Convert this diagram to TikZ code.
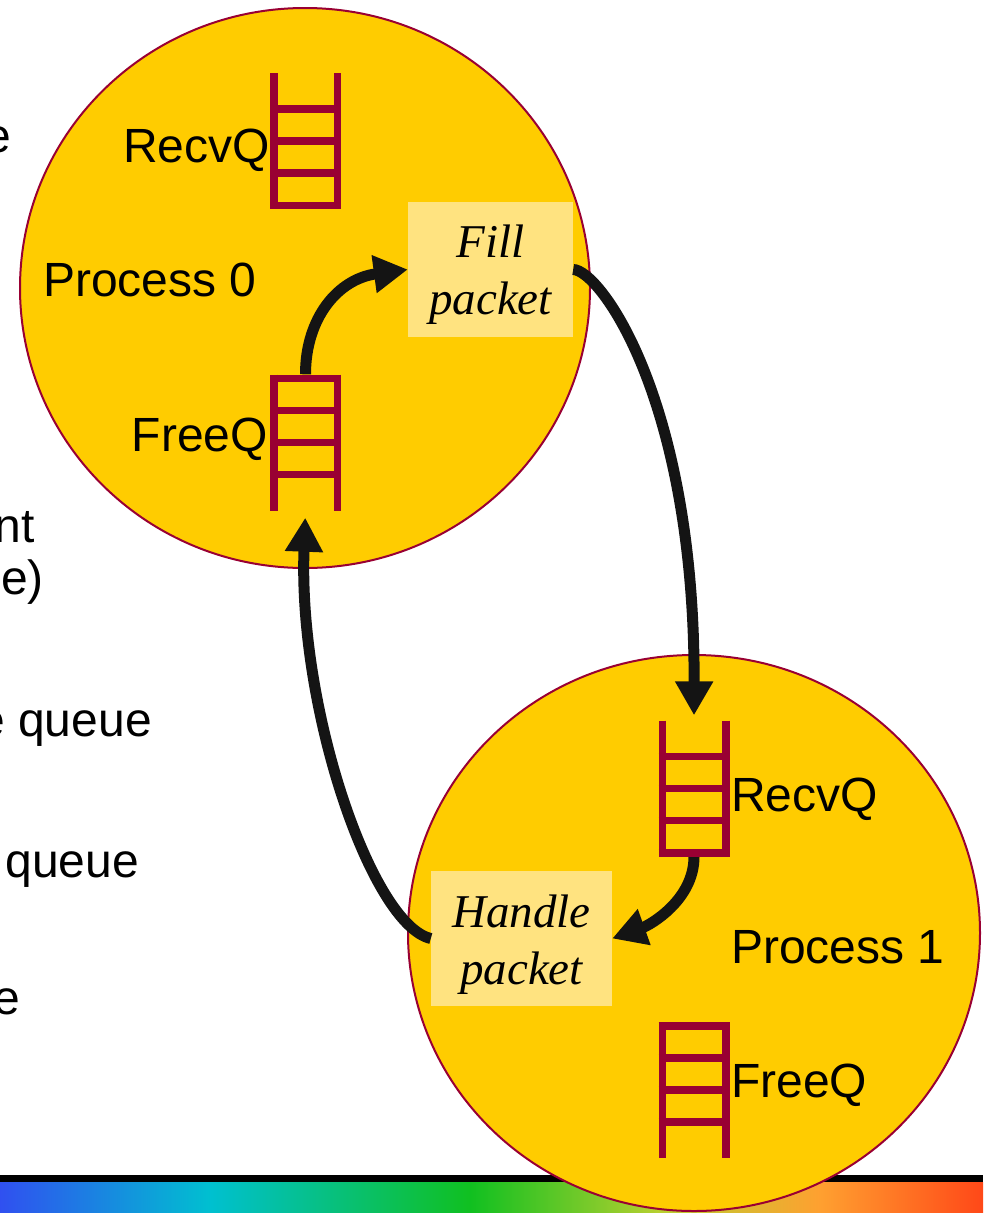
\documentclass[tikz,border=0pt]{standalone}
\usepackage{fontspec}
\setmainfont{Liberation Sans}
\newfontfamily\serifit{Liberation Serif}
\usetikzlibrary{shapes.geometric,arrows.meta}
\definecolor{procfill}{HTML}{FFCC00}
\definecolor{maroonq}{HTML}{990033}
\definecolor{boxfill}{HTML}{FFE380}
\definecolor{arrowblack}{HTML}{141414}
\definecolor{barA}{HTML}{3050F0}
\definecolor{barB}{HTML}{00C0D0}
\definecolor{barC}{HTML}{10C020}
\definecolor{barD}{HTML}{B8D030}
\definecolor{barE}{HTML}{FFA030}
\definecolor{barF}{HTML}{FF4818}
\newcommand\drawladder[2]{%
  \begin{scope}[shift={(#1.center)}]
    \draw[ladderline] (-31.75,-68) -- (-31.75,68) (31.75,-68) -- (31.75,68);
    \foreach \r in {#2}{\draw[ladderline] (-35.5,\r) -- (35.5,\r);}
  \end{scope}}
\begin{document}
\begin{tikzpicture}[x=1pt,y=-1pt,
  proc/.style={ellipse, draw=maroonq, line width=2pt, fill=procfill, inner sep=0pt},
  ladder/.style={rectangle, minimum width=71pt, minimum height=136pt, inner sep=0pt},
  ladderline/.style={draw=maroonq, line width=7.5pt},
  qlabel/.style={inner sep=0pt, font=\fontsize{48}{56}\selectfont, text=black},
  taskbox/.style={rectangle, fill=boxfill, inner sep=0pt, minimum height=135pt,
    font=\serifit\itshape\fontsize{47}{57}\selectfont, text=black},
  flow/.style={draw=arrowblack, line width=11pt, -{Triangle[length=34pt,width=36pt]}}]
\useasboundingbox (0,0) rectangle (983,1213);
\clip (0,0) rectangle (983,1213);
\fill[white] (0,0) rectangle (983,1213);
% bottom bar
\fill[black] (0,1175) rectangle (983,1182.5);
\shade[left color=barA,right color=barB] (0,1182) rectangle (210.5,1213);
\shade[left color=barB,right color=barC] (210,1182) rectangle (470.5,1213);
\shade[left color=barC,right color=barD] (470,1182) rectangle (660.5,1213);
\shade[left color=barD,right color=barE] (660,1182) rectangle (820.5,1213);
\shade[left color=barE,right color=barF] (820,1182) rectangle (983,1213);
% cut-off text on the left
\node[qlabel, anchor=base east] (t1) at (11,152) {e};
\node[qlabel, anchor=base east] (t2) at (35,542) {nt};
\node[qlabel, anchor=base east] (t3) at (44,594) {e)};
\node[qlabel, anchor=base east] (t4) at (152,736) {e queue};
\node[qlabel, anchor=base east] (t5) at (139,877) {queue};
\node[qlabel, anchor=base east] (t6) at (20,1014) {e};
% processes
\node[proc, minimum width=570pt, minimum height=560pt] (p0) at (305,288) {};
\node[proc, minimum width=572pt, minimum height=556pt] (p1) at (694,933) {};
% ladders (queues)
\node[ladder] (rq0) at (305.5,141) {};
\node[ladder] (fq0) at (305.5,442.5) {};
\node[ladder] (rq1) at (694,788.5) {};
\node[ladder] (fq1) at (694,1090) {};
% task boxes
\node[taskbox, minimum width=165pt] (fill) at (490.5,269.5)
  {\raisebox{-5pt}[\height][\depth]{\begin{tabular}{@{}c@{}}Fill\\packet\end{tabular}}};
\node[taskbox, minimum width=181pt] (handle) at (521.5,938.5)
  {\raisebox{-6.5pt}[\height][\depth]{\begin{tabular}{@{}c@{}}Handle\\packet\end{tabular}}};
% connectors
\draw[flow] (fq0.north) .. controls (305.5,318) and (338,279) .. (fill.west);
\draw[flow, shorten >=5pt] (fill.east) .. controls (600,270) and (695,400) .. (rq1.north);
\draw[flow] (rq1.south) .. controls (694,900) and (650,925) .. (handle.east);
\draw[flow, shorten >=7pt] (handle.west) .. controls (372,925) and (298,710) .. (fq0.south);
% ladders drawn
\drawladder{rq0}{-32,0,32,64.25}
\drawladder{fq0}{32,0,-32,-64.25}
\drawladder{rq1}{-32,0,32,64.25}
\drawladder{fq1}{32,0,-32,-64.25}
% labels
\node[qlabel, anchor=base east] (l1) at (270,162) {RecvQ};
\node[qlabel, anchor=base west] (l2) at (43,296) {Process 0};
\node[qlabel, anchor=base east] (l3) at (268,451) {FreeQ};
\node[qlabel, anchor=base west] (l4) at (731,811) {RecvQ};
\node[qlabel, anchor=base west] (l5) at (731,963) {Process 1};
\node[qlabel, anchor=base west] (l6) at (731,1097) {FreeQ};
\end{tikzpicture}
\end{document}
